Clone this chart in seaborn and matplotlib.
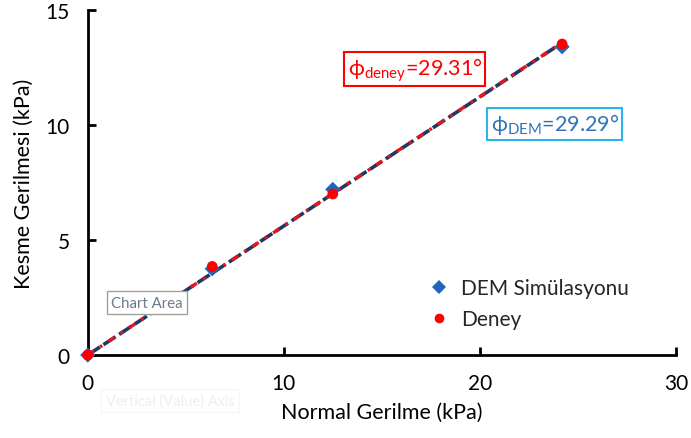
import numpy as np
import pandas as pd
import matplotlib
matplotlib.use("Agg")
import matplotlib.pyplot as plt
import seaborn as sns

# ---------------- data ----------------
normal_stress = [0.0, 6.35, 12.5, 24.2]          # kPa
dem_shear = [0.0, 3.75, 7.2, 13.4]               # DEM simulasyonu
deney_shear = [0.0, 3.85, 7.0, 13.52]            # deney
phi_dem = 29.29
phi_deney = 29.31
fit_x = [0.0, 24.2]

sns.set_theme(style="white")
plt.rcParams['font.family'] = ['Lato', 'DejaVu Sans']
plt.rcParams['mathtext.fontset'] = 'custom'
plt.rcParams['mathtext.rm'] = 'Lato'

df = pd.DataFrame({
    "x": normal_stress * 2,
    "y": dem_shear + deney_shear,
    "seri": ["DEM Simülasyonu"] * 4 + ["Deney"] * 4,
})
fit = pd.DataFrame({
    "x": fit_x * 2,
    "y": [v * np.tan(np.radians(phi_dem)) for v in fit_x] + [v * np.tan(np.radians(phi_deney)) for v in fit_x],
    "seri": ["dem"] * 2 + ["deney"] * 2,
})

fig = plt.figure(figsize=(6.91, 4.39), dpi=100)
ax = fig.add_axes([0.127, 0.189, 0.851, 0.786])

# trend lines
sns.lineplot(data=fit[fit.seri == "dem"], x="x", y="y", ax=ax, color="#1F3864",
             lw=2.6, linestyle=(0, (4, 1.2)), legend=False, zorder=2)
sns.lineplot(data=fit[fit.seri == "deney"], x="x", y="y", ax=ax, color="#E8141B",
             lw=2.4, linestyle=(0, (2.2, 2.2, 0.8, 2.2)), legend=False, zorder=3)

# points
sns.scatterplot(data=df, x="x", y="y", hue="seri", style="seri",
                palette={"DEM Simülasyonu": "#2166B8", "Deney": "#FF0000"},
                markers={"DEM Simülasyonu": "D", "Deney": "o"},
                s=60, linewidth=0, ax=ax, zorder=4)
for coll in ax.collections:
    coll.set_clip_on(False)

ax.set_xlim(0, 30)
ax.set_ylim(0, 15)
ax.set_xticks([0, 10, 20, 30])
ax.set_yticks([0, 5, 10, 15])
for s in ["top", "right"]:
    ax.spines[s].set_visible(False)
for s in ["left", "bottom"]:
    ax.spines[s].set_color("black")
    ax.spines[s].set_linewidth(2)
    ax.spines[s].set_zorder(1)
ax.tick_params(axis="both", direction="in", length=6, width=2, color="black",
               labelsize=15, labelcolor="black", left=True, bottom=True)
ax.tick_params(axis="x", pad=13)
ax.tick_params(axis="y", pad=13)
ax.set_xlabel("Normal Gerilme (kPa)", fontsize=15.5, color="black", labelpad=6)
ax.set_ylabel("Kesme Gerilmesi (kPa)", fontsize=15.5, color="black", labelpad=8)

leg = ax.legend(loc="lower left", bbox_to_anchor=(0.53, 0.02), frameon=False,
                fontsize=15, handletextpad=0.05, labelspacing=0.55, markerscale=0.9)

# angle labels
ax.text(0.442, 0.829, r"$\mathregular{ϕ_{deney}}$=29.31°", transform=ax.transAxes,
        color="#FF0000", fontsize=15.5, ha="left", va="center",
        bbox=dict(boxstyle="square,pad=0.15", fc="white", ec="#FF0000", lw=1.5))
ax.text(0.685, 0.67, r"$\mathregular{ϕ_{DEM}}$=29.29°", transform=ax.transAxes,
        color="#2E75B6", fontsize=15.5, ha="left", va="center",
        bbox=dict(boxstyle="square,pad=0.15", fc="white", ec="#29B6E8", lw=1.5))

# Excel tooltip leftovers
fig.text(0.161, 0.308, "Chart Area", fontsize=10.8, color="#6C7A8C", ha="left", va="center",
         bbox=dict(boxstyle="square,pad=0.3", fc="white", ec="#A0A0A0", lw=1))
fig.text(0.153, 0.085, "Vertical (Value) Axis", fontsize=10.5, color="#EEEEEE", ha="left", va="center",
         bbox=dict(boxstyle="square,pad=0.3", fc="white", ec="#F6F6F6", lw=1))

fig.savefig("out.png", dpi=100)
